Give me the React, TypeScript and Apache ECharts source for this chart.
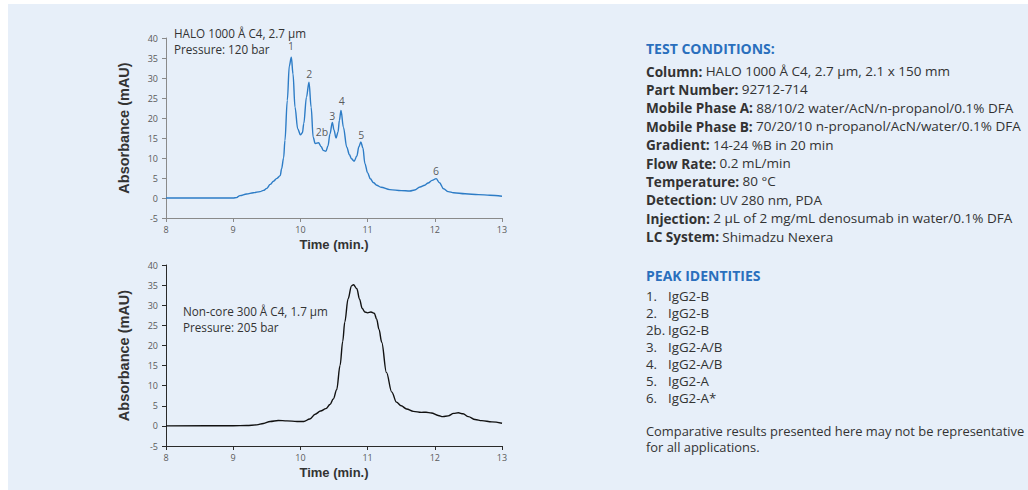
import React, { useEffect, useRef } from "react";
import * as echarts from "echarts";

// Top chromatogram: HALO 1000 Å C4
const haloTime = [8, 9.0, 9.05, 9.1, 9.2, 9.3, 9.4, 9.45, 9.5, 9.55, 9.6, 9.65, 9.7, 9.72, 9.75, 9.77, 9.805, 9.835, 9.865, 9.89, 9.92, 9.96, 10.0, 10.03, 10.05, 10.09, 10.128, 10.16, 10.19, 10.22, 10.27, 10.31, 10.34, 10.38, 10.41, 10.44, 10.475, 10.5, 10.53, 10.56, 10.58, 10.604, 10.64, 10.69, 10.73, 10.76, 10.8, 10.84, 10.87, 10.9, 10.93, 10.96, 11.0, 11.04, 11.09, 11.135, 11.2, 11.33, 11.5, 11.63, 11.7, 11.78, 11.85, 11.9, 11.96, 12.02, 12.07, 12.13, 12.2, 12.28, 12.45, 12.65, 12.82, 13.0];
const haloAbs = [0, 0, 0.1, 0.6, 1.0, 1.3, 1.6, 1.9, 2.4, 3.4, 4.2, 4.9, 5.6, 7.3, 10, 14.4, 24.4, 33, 35.2, 31, 22.7, 17.3, 15.8, 16.3, 18.6, 25.2, 28.95, 22.7, 15.2, 13.6, 13.8, 12.8, 11.9, 11.7, 13, 16, 18.9, 17, 15.0, 16.5, 19.4, 21.9, 17.7, 12.7, 10.8, 9.8, 9.2, 10.5, 12.8, 14.0, 12.5, 8.6, 6.3, 4.8, 3.8, 3.2, 2.7, 2.1, 1.85, 1.75, 2.0, 2.75, 3.2, 3.75, 4.4, 4.85, 3.8, 2.3, 1.6, 1.3, 1.05, 0.85, 0.7, 0.45];

// Peak labels (top chart)
const peakNames = ["1", "2", "2b", "3", "4", "5", "6"];
const peakLabelTime = [9.86, 10.133, 10.32, 10.475, 10.614, 10.907, 12.018];
const peakLabelAbs = [37.9, 30.9, 16.5, 20.4, 24.2, 15.8, 6.7];

// Bottom chromatogram: Non-core 300 Å C4
const nonCoreTime = [8, 9.0, 9.2, 9.35, 9.45, 9.55, 9.67, 9.8, 9.95, 10.05, 10.14, 10.22, 10.3, 10.38, 10.44, 10.49, 10.54, 10.59, 10.63, 10.66, 10.71, 10.76, 10.79, 10.84, 10.88, 10.92, 10.96, 11.0, 11.05, 11.1, 11.135, 11.17, 11.21, 11.28, 11.36, 11.43, 11.5, 11.58, 11.68, 11.8, 11.87, 11.95, 12.05, 12.12, 12.2, 12.28, 12.35, 12.42, 12.5, 12.6, 12.7, 12.85, 13.0];
const nonCoreAbs = [0, 0.05, 0.1, 0.25, 0.6, 1.1, 1.35, 1.25, 1.1, 1.1, 1.7, 2.9, 3.7, 4.3, 5.3, 6.7, 9.0, 15.0, 21, 25.8, 31.6, 34.8, 35.1, 34.1, 31.5, 29.2, 28.3, 28.1, 28.3, 28.0, 26.5, 24, 20.8, 13.3, 8.4, 5.9, 5.0, 4.2, 3.6, 3.35, 3.4, 3.2, 2.6, 2.3, 2.5, 3.1, 3.25, 3.0, 2.3, 1.6, 1.3, 1.0, 0.65];

const xTitle = "Time (min.)";
const yTitle = "Absorbance (mAU)";
const topNote = ["HALO 1000 Å C4, 2.7 µm", "Pressure: 120 bar"];
const bottomNote = ["Non-core 300 Å C4, 1.7 µm", "Pressure: 205 bar"];

const conditionsTitle = "TEST CONDITIONS:";
const conditionLabels = ["Column:", "Part Number:", "Mobile Phase A:", "Mobile Phase B:", "Gradient:", "Flow Rate:", "Temperature:", "Detection:", "Injection:", "LC System:"];
const conditionValues = ["HALO 1000 Å C4, 2.7 µm, 2.1 x 150 mm", "92712-714", "88/10/2 water/AcN/n-propanol/0.1% DFA", "70/20/10 n-propanol/AcN/water/0.1% DFA", "14-24 %B in 20 min", "0.2 mL/min", "80 °C", "UV 280 nm, PDA", "2 µL of 2 mg/mL denosumab in water/0.1% DFA", "Shimadzu Nexera"];

const peaksTitle = "PEAK IDENTITIES";
const peakIdNums = ["1.", "2.", "2b.", "3.", "4.", "5.", "6."];
const peakIdNames = ["IgG2-B", "IgG2-B", "IgG2-B", "IgG2-A/B", "IgG2-A/B", "IgG2-A", "IgG2-A*"];
const footnote = ["Comparative results presented here may not be representative", "for all applications."];

const zip = (a: number[], b: number[]) => a.map((v, i) => [v, b[i]]);

const FONT = "'Open Sans', sans-serif";
const TEXT = "#333333";
const BLUE_TITLE = "#2a6fbd";

function axisPair(idx: number, axisColor: string) {
  const x = {
    gridIndex: idx,
    type: "value",
    min: 8,
    max: 13,
    interval: 1,
    name: xTitle,
    nameLocation: "middle",
    nameGap: 20,
    nameTextStyle: { fontFamily: "'Liberation Sans', Arial, sans-serif", fontWeight: "bold", fontSize: 13, color: TEXT },
    axisLine: { show: true, onZero: false, lineStyle: { color: axisColor, width: 1 } },
    axisTick: { show: true, length: 4, inside: false, lineStyle: { color: axisColor } },
    axisLabel: { fontFamily: FONT, fontSize: 9, color: "#5a5a5a", margin: 7 },
    splitLine: { show: false },
  };
  const y = {
    gridIndex: idx,
    type: "value",
    min: -5,
    max: 40,
    interval: 5,
    name: yTitle,
    nameLocation: "middle",
    nameGap: 35,
    nameRotate: 90,
    nameTextStyle: { fontFamily: "'Liberation Sans', Arial, sans-serif", fontWeight: "bold", fontSize: 14.5, color: TEXT },
    axisLine: { show: true, onZero: false, lineStyle: { color: axisColor, width: 1 } },
    axisTick: { show: true, length: 4, inside: false, lineStyle: { color: axisColor } },
    axisLabel: { fontFamily: FONT, fontSize: 9, color: "#5a5a5a", margin: 8 },
    splitLine: { show: false },
  };
  return { x, y };
}

export default function App() {
  const ref = useRef<HTMLDivElement>(null);
  useEffect(() => {
    if (!ref.current) return;
    const chart = echarts.init(ref.current, undefined, { renderer: "svg" });
    const a0 = axisPair(0, "#8a8a8a");
    const a1 = axisPair(1, "#2a2a2a");

    const graphics: any[] = [];
    topNote.forEach((t, i) => {
      graphics.push({ type: "text", left: 174, top: 27 + i * 16, style: { text: t, font: `11.7px ${FONT}`, fill: TEXT } });
    });
    bottomNote.forEach((t, i) => {
      graphics.push({ type: "text", left: 183, top: 305 + i * 16, style: { text: t, font: `11.7px ${FONT}`, fill: TEXT } });
    });
    graphics.push({ type: "text", left: 646, top: 41, style: { text: conditionsTitle, font: `bold 14px ${FONT}`, fill: BLUE_TITLE } });
    conditionLabels.forEach((lab, i) => {
      graphics.push({
        type: "text",
        left: 646,
        top: 64 + i * 18.4,
        style: {
          text: `{b|${lab}} {n|${conditionValues[i]}}`,
          rich: {
            b: { fontFamily: FONT, fontWeight: "bold", fontSize: 13.6, fill: TEXT },
            n: { fontFamily: FONT, fontSize: 13.5, fill: TEXT },
          },
        },
      });
    });
    graphics.push({ type: "text", left: 646, top: 268, style: { text: peaksTitle, font: `bold 14px ${FONT}`, fill: BLUE_TITLE } });
    peakIdNums.forEach((n, i) => {
      graphics.push({ type: "text", left: 646, top: 289 + i * 17, style: { text: n, font: `13.3px ${FONT}`, fill: TEXT } });
      graphics.push({ type: "text", left: 668, top: 289 + i * 17, style: { text: peakIdNames[i], font: `13.3px ${FONT}`, fill: TEXT } });
    });
    footnote.forEach((t, i) => {
      graphics.push({ type: "text", left: 646, top: 424 + i * 16, style: { text: t, font: `12.9px ${FONT}`, fill: TEXT } });
    });

    chart.setOption({
      animation: false,
      grid: [
        { left: 166, top: 38, width: 336, height: 180 },
        { left: 166, top: 265, width: 336, height: 181 },
      ],
      xAxis: [a0.x, a1.x],
      yAxis: [a0.y, a1.y],
      series: [
        {
          type: "line",
          xAxisIndex: 0,
          yAxisIndex: 0,
          data: zip(haloTime, haloAbs),
          smooth: 0.35,
          smoothMonotone: "x",
          showSymbol: false,
          lineStyle: { color: "#2d7cc6", width: 1.4 },
        },
        {
          type: "scatter",
          xAxisIndex: 0,
          yAxisIndex: 0,
          symbolSize: 0,
          data: peakNames.map((n, i) => ({ name: n, value: [peakLabelTime[i], peakLabelAbs[i]] })),
          label: {
            show: true,
            position: "inside",
            formatter: (p: any) => p.name,
            fontFamily: FONT,
            fontSize: 10.5,
            color: TEXT,
          },
        },
        {
          type: "line",
          xAxisIndex: 1,
          yAxisIndex: 1,
          data: zip(nonCoreTime, nonCoreAbs),
          smooth: 0.35,
          smoothMonotone: "x",
          showSymbol: false,
          lineStyle: { color: "#111111", width: 1.4 },
        },
      ],
      graphic: graphics,
    });
    return () => chart.dispose();
  }, []);

  return (
    <div style={{ position: "absolute", left: 0, top: 0, width: 1028, height: 490, background: "#ffffff" }}>
      <div style={{ position: "absolute", left: 8, top: 4, width: 1020, height: 486, background: "#e7eff9" }} />
      <div ref={ref} style={{ position: "absolute", left: 0, top: 0, width: 1028, height: 490 }} />
    </div>
  );
}
